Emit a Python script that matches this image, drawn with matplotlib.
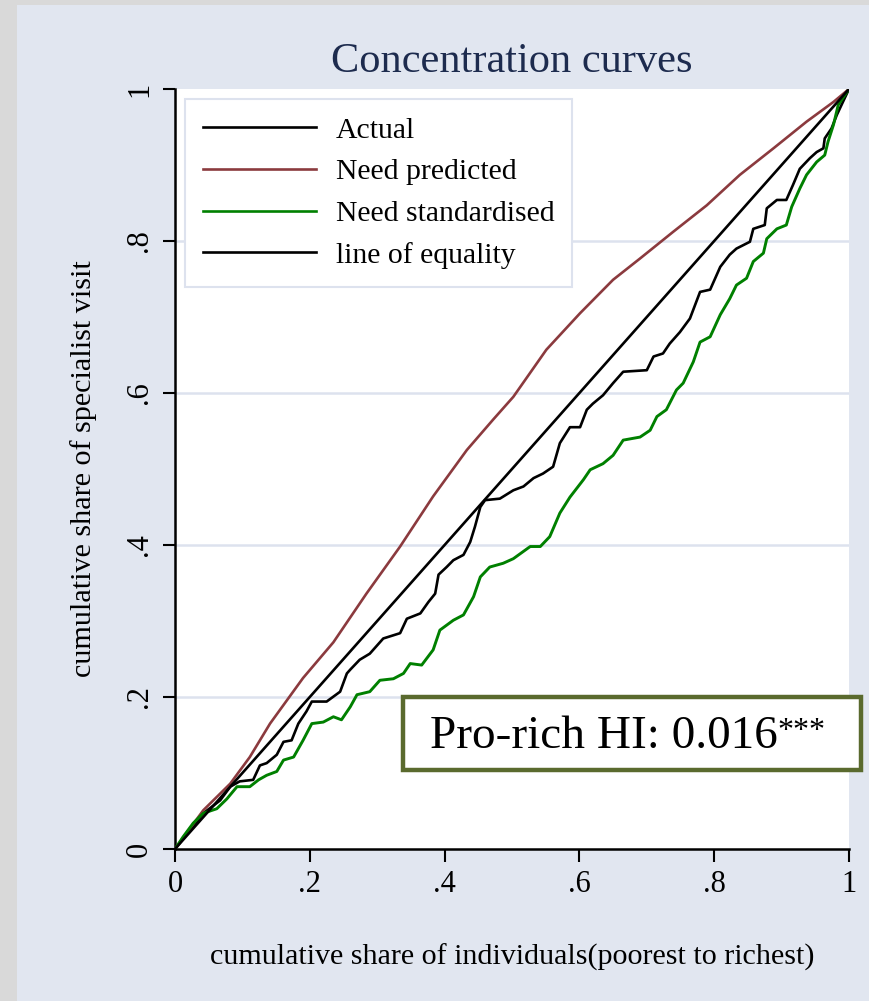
import matplotlib
matplotlib.use("Agg")
import matplotlib.pyplot as plt
from matplotlib.patches import Rectangle

# ----------------------------------------------------------------------------
#  DATA
# ----------------------------------------------------------------------------
pred_x = [0, 0.042, 0.082, 0.111, 0.141, 0.19, 0.235, 0.284, 0.334, 0.383,
          0.433, 0.472, 0.502, 0.551, 0.601, 0.650, 0.690, 0.739, 0.789,
          0.838, 0.888, 0.937, 0.977, 1]
pred_y = [0, 0.051, 0.086, 0.121, 0.165, 0.225, 0.272, 0.336, 0.398, 0.464,
          0.525, 0.565, 0.595, 0.657, 0.705, 0.749, 0.777, 0.812, 0.847,
          0.887, 0.922, 0.957, 0.983, 1]

actual_x = [0, 0.042, 0.067, 0.082, 0.096, 0.116, 0.126, 0.136, 0.151, 0.161,
            0.173, 0.183, 0.195, 0.203, 0.225, 0.245, 0.255, 0.26, 0.274,
            0.289, 0.309, 0.334, 0.344, 0.364, 0.376, 0.386, 0.391, 0.403,
            0.413, 0.428, 0.438, 0.445, 0.453, 0.46, 0.482, 0.502, 0.517,
            0.532, 0.546, 0.561, 0.571, 0.586, 0.601, 0.611, 0.620, 0.635,
            0.650, 0.665, 0.700, 0.710, 0.724, 0.734, 0.749, 0.764, 0.779,
            0.794, 0.809, 0.823, 0.833, 0.853, 0.858, 0.875, 0.878, 0.893,
            0.907, 0.917, 0.927, 0.942, 0.952, 0.962, 0.964, 0.974, 0.982, 1]
actual_y = [0, 0.047, 0.064, 0.082, 0.089, 0.091, 0.11, 0.113, 0.124, 0.141,
            0.143, 0.165, 0.181, 0.194, 0.194, 0.207, 0.231, 0.236, 0.249,
            0.257, 0.277, 0.284, 0.303, 0.31, 0.325, 0.336, 0.361, 0.371,
            0.38, 0.387, 0.404, 0.424, 0.45, 0.459, 0.461, 0.472, 0.477,
            0.488, 0.494, 0.503, 0.534, 0.555, 0.555, 0.578, 0.586, 0.597,
            0.613, 0.628, 0.630, 0.648, 0.652, 0.665, 0.680, 0.698, 0.733,
            0.736, 0.766, 0.782, 0.790, 0.799, 0.816, 0.821, 0.843, 0.854,
            0.854, 0.874, 0.895, 0.909, 0.917, 0.922, 0.935, 0.948, 0.966, 1]

std_x = [0, 0.012, 0.027, 0.042, 0.062, 0.077, 0.092, 0.111, 0.124, 0.136,
         0.151, 0.161, 0.176, 0.19, 0.203, 0.22, 0.235, 0.247, 0.26, 0.27,
         0.289, 0.304, 0.324, 0.339, 0.349, 0.366, 0.383, 0.393, 0.413,
         0.428, 0.443, 0.453, 0.467, 0.487, 0.502, 0.527, 0.542, 0.556,
         0.571, 0.586, 0.606, 0.616, 0.635, 0.650, 0.665, 0.690, 0.705,
         0.715, 0.729, 0.744, 0.754, 0.769, 0.779, 0.794, 0.809, 0.823,
         0.833, 0.848, 0.858, 0.873, 0.878, 0.893, 0.907, 0.915, 0.927,
         0.937, 0.952, 0.964, 0.969, 0.977, 0.984, 1]
std_y = [0, 0.016, 0.034, 0.047, 0.053, 0.066, 0.082, 0.082, 0.091, 0.097,
         0.102, 0.117, 0.121, 0.143, 0.165, 0.167, 0.174, 0.170, 0.187, 0.203,
         0.207, 0.222, 0.224, 0.231, 0.244, 0.242, 0.262, 0.288, 0.301,
         0.308, 0.332, 0.358, 0.371, 0.376, 0.382, 0.398, 0.398, 0.411,
         0.442, 0.463, 0.486, 0.499, 0.507, 0.518, 0.538, 0.542, 0.551,
         0.569, 0.578, 0.604, 0.613, 0.641, 0.667, 0.674, 0.703, 0.724,
         0.742, 0.751, 0.773, 0.784, 0.803, 0.816, 0.821, 0.845, 0.869,
         0.887, 0.904, 0.913, 0.931, 0.953, 0.979, 1]

equal_x = [0, 1]
equal_y = [0, 1]

labels = ["Actual", "Need predicted", "Need standardised", "line of equality"]
ticks = [0, 0.2, 0.4, 0.6, 0.8, 1]
tick_labels = ["0", ".2", ".4", ".6", ".8", "1"]

# ----------------------------------------------------------------------------
#  PLOT
# ----------------------------------------------------------------------------
plt.rcParams["font.family"] = ["Liberation Serif", "DejaVu Serif"]

bg_color = "#e1e6f0"
grid_color = "#dde2ee"

fig = plt.figure(figsize=(8.69, 10.01), dpi=100, facecolor=bg_color)
# grey frame around the exported graph
fig.patches.append(Rectangle((0, 0), 17 / 869, 1, transform=fig.transFigure,
                             facecolor="#d9d9d9", edgecolor="none", zorder=0))
fig.patches.append(Rectangle((0, 1 - 5 / 1001), 1, 5 / 1001, transform=fig.transFigure,
                             facecolor="#d9d9d9", edgecolor="none", zorder=0))

ax = fig.add_axes([175 / 869, 152 / 1001, 674 / 869, 760 / 1001])
ax.set_facecolor("white")

ax.plot(actual_x, actual_y, color="black", linewidth=1.9, label=labels[0], zorder=3)
ax.plot(pred_x, pred_y, color="#8b3a3e", linewidth=1.9, label=labels[1], zorder=3)
ax.plot(std_x, std_y, color="#008000", linewidth=2.1, label=labels[2], zorder=3)
ax.plot(equal_x, equal_y, color="black", linewidth=1.9, label=labels[3], zorder=3)

ax.set_xlim(0, 1)
ax.set_ylim(0, 1)
ax.set_xticks(ticks)
ax.set_xticklabels(tick_labels)
ax.set_yticks(ticks)
ax.set_yticklabels(tick_labels, rotation=90, va="center")
ax.tick_params(axis="both", labelsize=22, length=9, width=1.5, pad=6)

for side in ["top", "right"]:
    ax.spines[side].set_visible(False)
for side in ["left", "bottom"]:
    ax.spines[side].set_linewidth(1.8)

for yv in ticks[1:-1]:
    ax.axhline(yv, color=grid_color, linewidth=1.8, zorder=1)

ax.set_xlabel("cumulative share of individuals(poorest to richest)", fontsize=21.6, labelpad=32)
ax.set_ylabel("cumulative share of specialist visit", fontsize=21.7, labelpad=20)

fig.text(512 / 869, 1 - 62 / 1001, "Concentration curves", fontsize=30.5,
         color="#1d2b4e", ha="center", va="center")

leg = ax.legend(loc="upper left", bbox_to_anchor=(185 / 869, 1 - 99 / 1001),
                bbox_transform=fig.transFigure, borderaxespad=0, fontsize=21.4,
                frameon=True, fancybox=False, framealpha=1, handlelength=3.8,
                handletextpad=0.67, labelspacing=0.5, borderpad=0.6)
leg.get_frame().set_edgecolor(grid_color)
leg.get_frame().set_linewidth(1.5)
for line in leg.get_lines():
    line.set_linewidth(1.9)

# annotation box with the horizontal index
fig.patches.append(Rectangle((403 / 869, 1 - 770 / 1001), 458 / 869, 73 / 1001,
                             transform=fig.transFigure, facecolor="white",
                             edgecolor="#5a6a2e", linewidth=3.2, zorder=5))
hi_text = fig.text(430 / 869, 1 - 737 / 1001, "Pro-rich HI: 0.016", fontsize=34,
                   ha="left", va="center", zorder=6)
fig.add_artist(matplotlib.text.Annotation("***", xy=(1.0, 0.97), xycoords=hi_text,
                                          fontsize=23, ha="left", va="top", zorder=6))

fig.savefig("out.png", dpi=100, facecolor=bg_color)
